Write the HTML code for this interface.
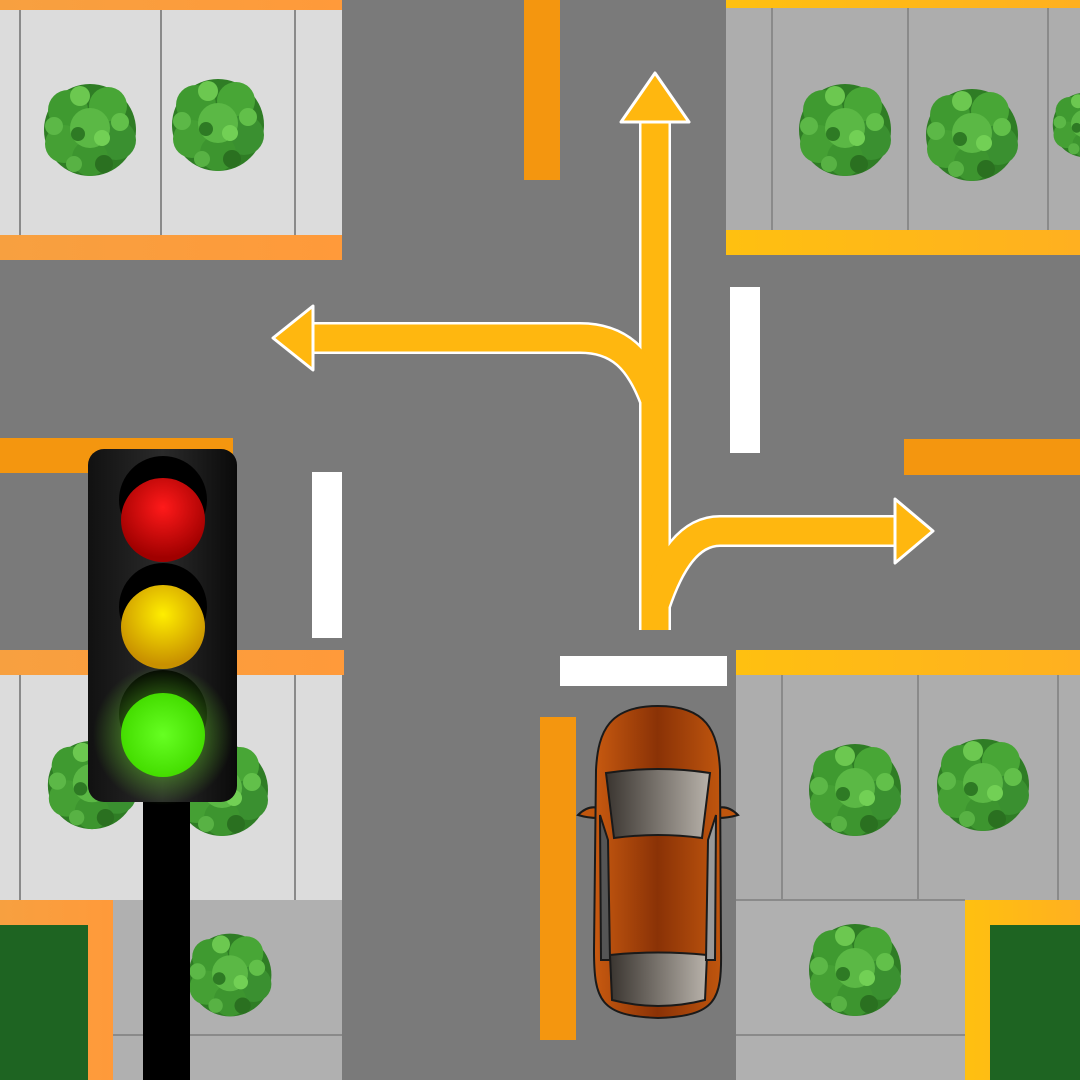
<!DOCTYPE html><html><head><style>html,body{margin:0;padding:0}body{width:1080px;height:1080px;overflow:hidden}</style></head><body>
<svg width="1080" height="1080" viewBox="0 0 1080 1080" xmlns="http://www.w3.org/2000/svg">
<defs>
<radialGradient id="bush" cx="50%" cy="50%" r="50%"><stop offset="0" stop-color="#5fb84a"/><stop offset="0.7" stop-color="#3a8f2e"/><stop offset="1" stop-color="#2a6e20"/></radialGradient>
<symbol id="b" viewBox="-50 -50 100 100" overflow="visible">
<circle cx="0" cy="0" r="46" fill="#2f7d25"/>
<circle cx="-22" cy="-20" r="20" fill="#3f9a30"/><circle cx="18" cy="-24" r="19" fill="#48a636"/>
<circle cx="26" cy="10" r="20" fill="#3a9030"/><circle cx="-26" cy="14" r="19" fill="#45a034"/>
<circle cx="0" cy="28" r="18" fill="#3d952f"/><circle cx="0" cy="-2" r="20" fill="#5bb845"/>
<circle cx="-10" cy="-34" r="10" fill="#6cc850"/><circle cx="30" cy="-8" r="9" fill="#62c04a"/>
<circle cx="-36" cy="-4" r="9" fill="#5cb847"/><circle cx="14" cy="34" r="9" fill="#2a7020"/>
<circle cx="-16" cy="34" r="8" fill="#58b244"/><circle cx="12" cy="8" r="8" fill="#72d055"/>
<circle cx="-12" cy="4" r="7" fill="#2e7a24"/>
</symbol>
<linearGradient id="hous" x1="0" x2="1"><stop offset="0" stop-color="#111"/><stop offset="0.5" stop-color="#2a2a2a"/><stop offset="1" stop-color="#0a0a0a"/></linearGradient>
<radialGradient id="red" cx="50%" cy="35%" r="60%"><stop offset="0" stop-color="#ff1a1a"/><stop offset="1" stop-color="#a00000"/></radialGradient>
<radialGradient id="yel" cx="50%" cy="35%" r="60%"><stop offset="0" stop-color="#ffee00"/><stop offset="1" stop-color="#c89000"/></radialGradient>
<radialGradient id="grn" cx="50%" cy="50%" r="50%"><stop offset="0" stop-color="#66ff22"/><stop offset="1" stop-color="#44dd00"/></radialGradient>
<radialGradient id="glow" cx="50%" cy="50%" r="50%"><stop offset="0" stop-color="#7aff30" stop-opacity="0.7"/><stop offset="1" stop-color="#7aff30" stop-opacity="0"/></radialGradient>
<linearGradient id="carb" x1="0" x2="1"><stop offset="0" stop-color="#c85a10"/><stop offset="0.5" stop-color="#8a3206"/><stop offset="1" stop-color="#c0560e"/></linearGradient>
<linearGradient id="glass" x1="0" x2="1"><stop offset="0" stop-color="#3a3530"/><stop offset="1" stop-color="#b8b2aa"/></linearGradient>
<linearGradient id="or" x1="0" x2="1"><stop offset="0" stop-color="#f7a040"/><stop offset="1" stop-color="#ff9a3a"/></linearGradient>
<linearGradient id="yl" x1="0" x2="1"><stop offset="0" stop-color="#ffc010"/><stop offset="1" stop-color="#ffb020"/></linearGradient>
</defs>
<rect width="1080" height="1080" fill="#7a7a7a"/>
<rect x="0" y="0" width="342" height="260" fill="#dcdcdc"/>
<rect x="0" y="0" width="342" height="10" fill="url(#or)"/>
<rect x="0" y="235" width="342" height="25" fill="url(#or)"/>
<g stroke="#8a8a8a" stroke-width="2"><line x1="20" y1="10" x2="20" y2="235"/><line x1="161" y1="10" x2="161" y2="235"/><line x1="295" y1="10" x2="295" y2="235"/></g>
<rect x="726" y="0" width="354" height="255" fill="#adadad"/>
<rect x="726" y="0" width="354" height="8" fill="url(#yl)"/>
<rect x="726" y="230" width="354" height="25" fill="url(#yl)"/>
<g stroke="#8a8a8a" stroke-width="2"><line x1="772" y1="8" x2="772" y2="230"/><line x1="908" y1="8" x2="908" y2="230"/><line x1="1048" y1="8" x2="1048" y2="230"/></g>
<rect x="0" y="650" width="342" height="430" fill="#dcdcdc"/>
<rect x="113" y="900" width="229" height="180" fill="#b0b0b0"/>
<rect x="0" y="650" width="344" height="25" fill="url(#or)"/>
<g stroke="#8a8a8a" stroke-width="2"><line x1="20" y1="675" x2="20" y2="900"/><line x1="295" y1="675" x2="295" y2="900"/><line x1="113" y1="1035" x2="342" y2="1035"/></g>
<rect x="0" y="900" width="113" height="180" fill="url(#or)"/>
<rect x="0" y="925" width="88" height="155" fill="#1e6422"/>
<rect x="736" y="650" width="344" height="430" fill="#adadad"/>
<rect x="736" y="900" width="229" height="180" fill="#b0b0b0"/>
<rect x="736" y="650" width="344" height="25" fill="url(#yl)"/>
<g stroke="#8a8a8a" stroke-width="2"><line x1="782" y1="675" x2="782" y2="900"/><line x1="918" y1="675" x2="918" y2="900"/><line x1="1058" y1="675" x2="1058" y2="900"/><line x1="736" y1="900" x2="965" y2="900"/><line x1="736" y1="1035" x2="965" y2="1035"/></g>
<rect x="965" y="900" width="115" height="180" fill="url(#yl)"/>
<rect x="990" y="925" width="90" height="155" fill="#1e6422"/>
<use href="#b" x="40" y="80" width="100" height="100"/>
<use href="#b" x="168" y="75" width="100" height="100"/>
<use href="#b" x="795" y="80" width="100" height="100"/>
<use href="#b" x="922" y="85" width="100" height="100"/>
<use href="#b" x="1050" y="85" width="70" height="80"/>
<use href="#b" x="44" y="737" width="96" height="96"/>
<use href="#b" x="172" y="740" width="100" height="100"/>
<use href="#b" x="805" y="740" width="100" height="100"/>
<use href="#b" x="933" y="735" width="100" height="100"/>
<use href="#b" x="185" y="930" width="90" height="90"/>
<use href="#b" x="805" y="920" width="100" height="100"/>
<g fill="#f4960f">
<rect x="524" y="0" width="36" height="180"/><rect x="0" y="438" width="233" height="35"/>
<rect x="904" y="439" width="176" height="36"/><rect x="540" y="717" width="36" height="323"/>
</g>
<g fill="#fff">
<rect x="730" y="287" width="30" height="166"/><rect x="312" y="472" width="30" height="166"/><rect x="560" y="656" width="167" height="30"/>
</g>
<g fill="none" stroke-linejoin="round">
<g stroke="#fff" stroke-width="32">
<path d="M655 630 V110"/><path d="M655 400 C640 360 620 338 580 338 H305"/><path d="M655 605 C670 560 690 531 720 531 H900"/>
</g>
<g stroke="#ffb70f" stroke-width="27">
<path d="M655 630 V110"/><path d="M655 400 C640 360 620 338 580 338 H305"/><path d="M655 605 C670 560 690 531 720 531 H900"/>
</g>
</g>
<g fill="#ffb70f" stroke="#fff" stroke-width="3" stroke-linejoin="round">
<polygon points="621,122 655,73 689,122"/>
<polygon points="313,306 273,338 313,370"/>
<polygon points="895,499 933,531 895,563"/>
</g>
<rect x="143" y="795" width="47" height="285" fill="#000"/>
<rect x="88" y="449" width="149" height="353" rx="16" fill="url(#hous)"/>
<circle cx="163" cy="500" r="44" fill="#000"/><circle cx="163" cy="607" r="44" fill="#000"/><circle cx="163" cy="714" r="44" fill="#000"/>
<circle cx="163" cy="520" r="42" fill="url(#red)"/>
<circle cx="163" cy="627" r="42" fill="url(#yel)"/>
<circle cx="163" cy="735" r="70" fill="url(#glow)"/>
<circle cx="163" cy="735" r="42" fill="url(#grn)"/>
<g stroke="#1a1a1a" stroke-width="2">
<path d="M578 815 Q588 805 598 808 L598 818 Q588 818 578 815Z" fill="#c0560e"/>
<path d="M738 815 Q728 805 718 808 L718 818 Q728 818 738 815Z" fill="#c0560e"/>
<path d="M658 706 C610 706 598 730 596 770 L594 950 C594 1000 600 1016 658 1018 C716 1016 722 1000 721 950 L720 770 C718 730 706 706 658 706Z" fill="url(#carb)"/>
<path d="M606 773 Q658 765 710 773 L702 838 Q658 832 614 838Z" fill="url(#glass)"/>
<path d="M610 955 Q658 950 707 955 L705 1000 Q658 1012 612 1000Z" fill="url(#glass)"/>
<path d="M600 815 L608 840 L610 960 L601 960Z" fill="#555"/>
<path d="M716 815 L708 840 L706 960 L715 960Z" fill="#999"/>
</g>
</svg>
</body></html>
